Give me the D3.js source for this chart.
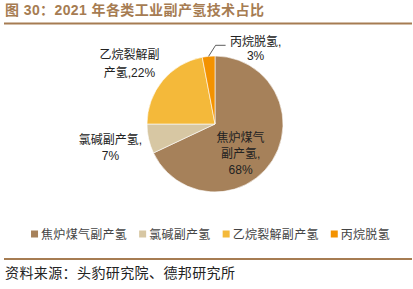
<!DOCTYPE html>
<html><head><meta charset="utf-8">
<script src="https://cdn.jsdelivr.net/npm/d3@7"></script>
<style>
body{margin:0;background:#fff;}
text{font-family:"Liberation Sans","Noto Sans CJK SC",sans-serif;}
</style></head>
<body><svg id="c" width="413" height="289"></svg>
<script>
const titleText = "图 30：2021 年各类工业副产氢技术占比";
const sourceText = "资料来源：头豹研究院、德邦研究所";
const categories = ["焦炉煤气副产氢","氯碱副产氢","乙烷裂解副产氢","丙烷脱氢"];
const values = [68, 7, 22, 3];
const labelLines = [["焦炉煤气","副产氢,","68%"],["氯碱副产氢,","7%"],["乙烷裂解副","产氢,22%"],["丙烷脱氢,","3%"]];
const colors = ["#A6815A","#D7C7A3","#F4B93A","#F39200"];

const svg = d3.select("#c");
const brown = "#A67C52";

// title
svg.append("text").attr("x",5).attr("y",15).attr("font-size",14).attr("font-weight","bold")
  .attr("fill",brown).attr("letter-spacing",0.4).text(titleText);
svg.append("line").attr("x1",4).attr("x2",412).attr("y1",23.5).attr("y2",23.5)
  .attr("stroke",brown).attr("stroke-width",2);

// pie
const cx = 215, cy = 124, R = 68;
const g = svg.append("g").attr("transform",`translate(${cx},${cy})`);
const data = categories.map((c,i)=>({cat:c,value:values[i],i}));
const pie = d3.pie().value(d=>d.value).sort(null).startAngle(0).endAngle(2*Math.PI);
const arcs = pie(data);
const arc = d3.arc().innerRadius(0).outerRadius(R);
const color = d3.scaleOrdinal().domain(categories).range(colors);
g.selectAll("path").data(arcs).enter().append("path")
  .attr("d",arc).attr("fill",d=>color(d.data.cat)).attr("stroke","#fff").attr("stroke-width",0.6);

// labels
const labelCfg = [
  {f:0.55, dx:-6, dy:-6, lh:16},
  {f:1.5, dx:-5, dy:-6, lh:16},
  {f:1.5, dx:-7, dy:-4, lh:18},
  {f:1.0, dx:0, dy:0, lh:14}
];
arcs.forEach((a,i)=>{
  const cfg = labelCfg[i];
  const la = d3.arc().innerRadius(R*cfg.f).outerRadius(R*cfg.f);
  let [x,y] = la.centroid(a);
  if(i===3){
    // leader line
    const mid = (a.startAngle+a.endAngle)/2;
    const sx = R*Math.sin(mid), sy = -R*Math.cos(mid);
    const ex = sx+7, ey = sy-11;
    g.append("polyline").attr("points",`${sx},${sy} ${ex},${ey} ${ex+10},${ey}`)
      .attr("fill","none").attr("stroke","#333").attr("stroke-width",0.8);
    x = ex+40; y = ey-3;
  } else { x += cfg.dx; y += cfg.dy; }
  const t = g.append("text").attr("text-anchor","middle").attr("font-size",12).attr("fill","#222");
  labelLines[i].forEach((ln,k)=>{
    t.append("tspan").attr("x",x).attr("y",y + k*cfg.lh + 4).text(ln);
  });
});

// legend
const lg = svg.append("g");
let lx = 0;
categories.forEach((c,i)=>{
  const it = lg.append("g").attr("transform",`translate(${lx},0)`);
  it.append("rect").attr("x",0).attr("y",-3.5).attr("width",7).attr("height",7).attr("fill",colors[i]);
  const tx = it.append("text").attr("x",10).attr("y",4.5).attr("font-size",12).attr("fill","#444")
    .attr("letter-spacing",0.3).text(c);
  lx += 10 + tx.node().getComputedTextLength() + 12;
});
const lw = lx - 12;
lg.attr("transform",`translate(${(413-lw)/2+4},234)`);

// footer
svg.append("line").attr("x1",4).attr("x2",412).attr("y1",259).attr("y2",259)
  .attr("stroke",brown).attr("stroke-width",2);
svg.append("text").attr("x",5).attr("y",278).attr("font-size",14).attr("fill","#222")
  .attr("letter-spacing",0.4).text(sourceText);
</script></body></html>
